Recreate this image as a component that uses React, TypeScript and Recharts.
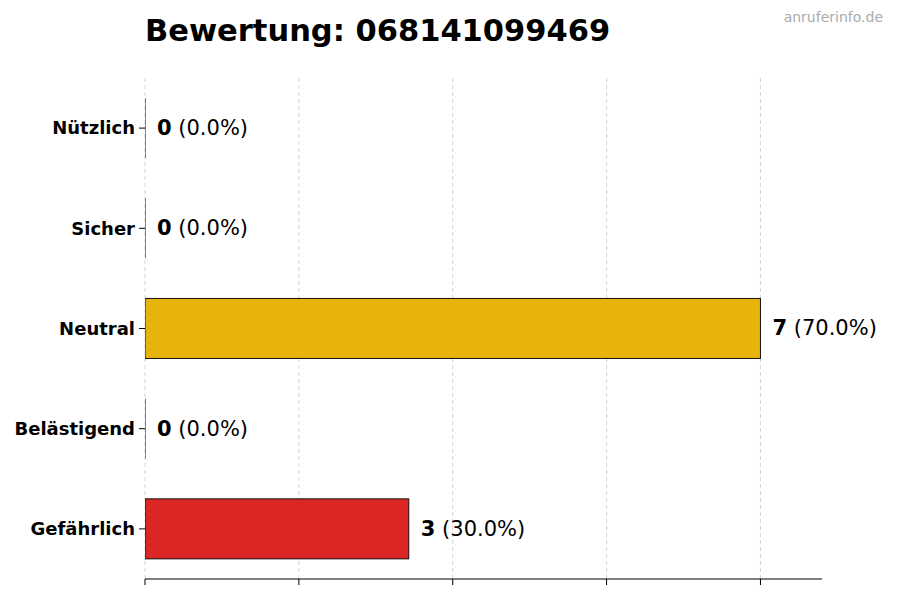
import React from "react"
import {
    BarChart,
    Bar,
    XAxis,
    YAxis,
    CartesianGrid,
    Cell,
    LabelList
} from "recharts"

const KATEGORIEN = ["Nützlich", "Sicher", "Neutral", "Belästigend", "Gefährlich"]
const ANZAHL = [0, 0, 7, 0, 3]
const FARBEN = ["#22c55e", "#3b82f6", "#e8b40c", "#f97316", "#dc2626"]
const X_TICKS = [0, 1.75, 3.5, 5.25, 7]

const GESAMT = ANZAHL.reduce((a, b) => a + b, 0)

const data = KATEGORIEN.map((name, i) => ({ name, value: ANZAHL[i] }))

const FONT = "'DejaVu Sans', sans-serif"

function BarShape(props: any) {
    const { x, y, width, height, fill } = props
    if (!width) {
        return <line x1={x} x2={x} y1={y} y2={y + height} stroke="#111" strokeWidth={1} />
    }
    return <rect x={x} y={y} width={width} height={height} fill={fill} stroke="#111" strokeWidth={1} />
}

function WertLabel(props: any) {
    const { x, y, width, height, value } = props
    const pct = GESAMT ? ((value / GESAMT) * 100).toFixed(1) : "0.0"
    return (
        <text
            x={x + width + 12}
            y={y + height / 2}
            dominantBaseline="central"
            fontFamily={FONT}
            fontSize={21}
            fill="#000"
        >
            <tspan fontWeight="bold">{value}</tspan>
            <tspan> ({pct}%)</tspan>
        </text>
    )
}

export default function App() {
    return (
        <div style={{ position: "absolute", left: 0, top: 0, width: 900, height: 600, background: "#fff" }}>
            <svg width={900} height={60} style={{ position: "absolute", left: 0, top: 0 }}>
                <text x={145} y={41} fontFamily={FONT} fontWeight="bold" fontSize={30.5} fill="#000">
                    Bewertung: 068141099469
                </text>
                <text x={883} y={22} textAnchor="end" fontFamily={FONT} fontSize={14} fill="#aaa">
                    anruferinfo.de
                </text>
            </svg>
            <BarChart
                width={900}
                height={600}
                data={data}
                layout="vertical"
                margin={{ top: 78, right: 78, bottom: 13, left: 0 }}
                barCategoryGap="20%"
            >
                <CartesianGrid
                    horizontal={false}
                    verticalValues={X_TICKS}
                    stroke="#d4d4d4"
                    strokeDasharray="4 3"
                />
                <XAxis
                    type="number"
                    domain={[0, 7.7]}
                    ticks={X_TICKS}
                    tick={() => <g />}
                    height={8}
                    tickSize={6}
                    axisLine={{ stroke: "#000", strokeWidth: 1.2 }}
                    tickLine={{ stroke: "#000" }}
                    allowDataOverflow
                />
                <YAxis
                    type="category"
                    dataKey="name"
                    width={145}
                    axisLine={false}
                    tickSize={6}
                    tickMargin={4}
                    tickLine={{ stroke: "#000" }}
                    tick={{ fontFamily: FONT, fontWeight: "bold", fontSize: 18, fill: "#000" }}
                />
                <Bar dataKey="value" isAnimationActive={false} shape={BarShape}>
                    {data.map((entry, index) => (
                        <Cell key={`cell-${index}`} fill={FARBEN[index]} />
                    ))}
                    <LabelList dataKey="value" content={WertLabel} />
                </Bar>
            </BarChart>
        </div>
    )
}
